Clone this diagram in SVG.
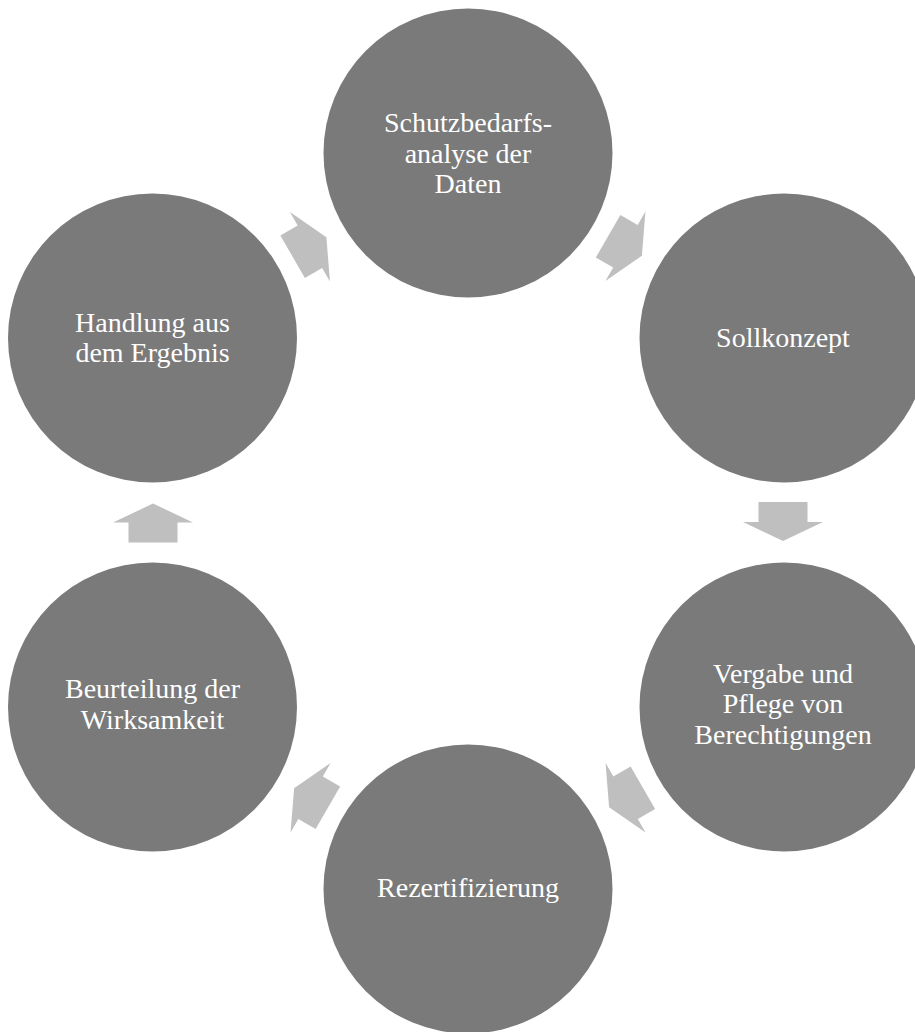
<svg xmlns="http://www.w3.org/2000/svg" width="915" height="1032" viewBox="0 0 915 1032">
<style>
.node circle{fill:#7A7A7A;}
.node text{fill:#FFFFFF;font-family:"Liberation Serif","Times New Roman",serif;font-size:28px;text-anchor:middle;}
.arr{fill:#BFBFBF;}
</style>
<defs>
<path id="arrow" d="M-19.5,-24.5 L0.5,-24.5 L0.5,-40 L19.5,0 L0.5,40 L0.5,24.5 L-19.5,24.5 Z"/>
</defs>
<rect width="915" height="1032" fill="#FFFFFF"/>
<g id="connectors">
<use href="#arrow" class="arr" transform="translate(625,246) rotate(30)"/>
<use href="#arrow" class="arr" transform="translate(783,521.5) rotate(90)"/>
<use href="#arrow" class="arr" transform="translate(626,797.5) rotate(150)"/>
<use href="#arrow" class="arr" transform="translate(311,798) rotate(210)"/>
<use href="#arrow" class="arr" transform="translate(153,523) rotate(270)"/>
<use href="#arrow" class="arr" transform="translate(309.5,247) rotate(330)"/>
</g>
<g id="node-schutzbedarf" class="node">
<circle cx="468" cy="153" r="144.5"/>
<text x="468" y="132">Schutzbedarfs-</text>
<text x="468" y="163">analyse der</text>
<text x="468" y="193">Daten</text>
</g>
<g id="node-sollkonzept" class="node">
<circle cx="784" cy="338" r="144.5"/>
<text x="783" y="347">Sollkonzept</text>
</g>
<g id="node-vergabe" class="node">
<circle cx="784" cy="707" r="144.5"/>
<text x="783" y="683">Vergabe und</text>
<text x="783" y="713">Pflege von</text>
<text x="783" y="744">Berechtigungen</text>
</g>
<g id="node-rezertifizierung" class="node">
<circle cx="468" cy="889" r="144.5"/>
<text x="468" y="897">Rezertifizierung</text>
</g>
<g id="node-beurteilung" class="node">
<circle cx="152.5" cy="707" r="144.5"/>
<text x="152.5" y="698">Beurteilung der</text>
<text x="152.5" y="729">Wirksamkeit</text>
</g>
<g id="node-handlung" class="node">
<circle cx="152.5" cy="338" r="144.5"/>
<text x="152.5" y="332">Handlung aus</text>
<text x="152.5" y="362">dem Ergebnis</text>
</g>
</svg>
